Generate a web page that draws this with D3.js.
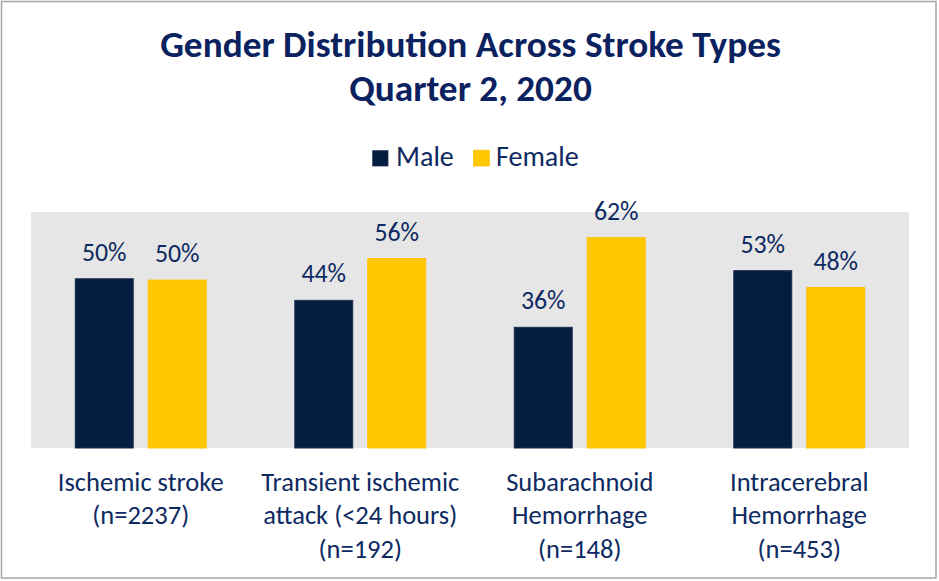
<!DOCTYPE html>
<html>
<head>
<meta charset="utf-8">
<script src="https://cdn.jsdelivr.net/npm/d3@7"></script>
<style>
  html, body { margin: 0; padding: 0; background: #fff; }
  svg { display: block; }
  text { font-family: Carlito, Calibri, Lato, "Open Sans", sans-serif; }
</style>
</head>
<body>
<svg id="chart" width="939" height="581"></svg>
<script>
// ---- data ----
const titleLines = ["Gender Distribution Across Stroke Types", "Quarter 2, 2020"];
const categories = ["Ischemic stroke", "Transient ischemic attack", "Subarachnoid Hemorrhage", "Intracerebral Hemorrhage"];
const categoryLabelLines = [
  ["Ischemic stroke", "(n=2237)"],
  ["Transient ischemic", "attack (<24 hours)", "(n=192)"],
  ["Subarachnoid", "Hemorrhage", "(n=148)"],
  ["Intracerebral", "Hemorrhage", "(n=453)"]
];
const seriesNames = ["Male", "Female"];
const maleValues = [50.2, 43.8, 35.8, 52.6];
const femaleValues = [49.8, 56.2, 62.4, 47.6];
const yDomain = [0, 70];

// ---- styles ----
const colors = { Male: "#041E42", Female: "#FFC800" };
const strokes = { Male: "#1d2f4f", Female: "#FFC000" };
const textColor = "#0E2A62";
const titleColor = "#0B2260";

const svg = d3.select("#chart");
const W = 939, H = 581;

// outer border
svg.append("rect").attr("x", 1.5).attr("y", 1.5).attr("width", 934.5).attr("height", 576.5)
  .attr("fill", "#fff").attr("stroke", "#A6A6A6").attr("stroke-width", 1.5);

// helper: fit font size so text width matches target
function fitSize(str, weight, target) {
  const t = svg.append("text").attr("font-size", 100).attr("font-weight", weight).text(str);
  const w = t.node().getComputedTextLength();
  t.remove();
  return 100 * target / w;
}

const plot = { left: 31, right: 909, top: 212, bottom: 448 };

const x0 = d3.scaleBand().domain(categories).range([plot.left, plot.right]).paddingInner(0).paddingOuter(0);
const x1 = d3.scaleBand().domain(seriesNames).range([0, x0.bandwidth()]).paddingInner(0.192).paddingOuter(0.6);
const y = d3.scaleLinear().domain(yDomain).range([plot.bottom, plot.top]);

// plot background
svg.append("rect").attr("x", plot.left).attr("y", plot.top)
  .attr("width", plot.right - plot.left).attr("height", plot.bottom - plot.top)
  .attr("fill", "#E7E6E6");

// title
const titleSize = fitSize(titleLines[0], "bold", 621);
svg.selectAll("text.title").data(titleLines).join("text")
  .attr("class", "title")
  .attr("x", 470.5)
  .attr("y", (d, i) => [57, 101][i])
  .attr("text-anchor", "middle")
  .attr("font-weight", "bold")
  .attr("font-size", titleSize)
  .attr("fill", titleColor)
  .text(d => d);

// legend
const legendSize = fitSize("Female", "normal", 82.7);
const legendItems = [
  { name: "Male", sx: 372.7, tx: 396, size: 15.3 },
  { name: "Female", sx: 473.5, tx: 496, size: 15.8 }
];
const lg = svg.append("g");
legendItems.forEach(it => {
  lg.append("rect").attr("x", it.sx).attr("y", 166 - it.size).attr("width", it.size).attr("height", it.size)
    .attr("fill", colors[it.name]).attr("stroke", strokes[it.name]).attr("stroke-width", 0.75);
  lg.append("text").attr("x", it.tx).attr("y", 166).attr("font-size", legendSize)
    .attr("fill", textColor).text(it.name);
});

// bars
const rows = categories.map((c, i) => ({ cat: c, Male: maleValues[i], Female: femaleValues[i] }));
const groups = svg.selectAll("g.grp").data(rows).join("g")
  .attr("class", "grp")
  .attr("transform", d => `translate(${x0(d.cat)},0)`);

const valSize = fitSize("50%", "normal", 44.7);
groups.each(function(d) {
  const g = d3.select(this);
  seriesNames.forEach(s => {
    g.append("rect")
      .attr("x", x1(s) + 0.5)
      .attr("y", y(d[s]))
      .attr("width", x1.bandwidth() - 1)
      .attr("height", y(0) - y(d[s]))
      .attr("fill", colors[s])
      .attr("stroke", strokes[s])
      .attr("stroke-width", 1);
    g.append("text")
      .attr("x", x1(s) + x1.bandwidth() / 2)
      .attr("y", y(d[s]) - 18)
      .attr("text-anchor", "middle")
      .attr("font-size", valSize)
      .attr("fill", textColor)
      .text(Math.round(d[s]) + "%");
  });
});

// category labels
const catSize = fitSize("Transient ischemic", "normal", 198);
categories.forEach((c, i) => {
  const cx = x0(c) + x0.bandwidth() / 2;
  const t = svg.append("text")
    .attr("text-anchor", "middle")
    .attr("font-size", catSize)
    .attr("fill", textColor);
  categoryLabelLines[i].forEach((line, j) => {
    t.append("tspan").attr("x", cx).attr("y", 490.7 + j * 33.7).text(line);
  });
});
</script>
</body>
</html>
